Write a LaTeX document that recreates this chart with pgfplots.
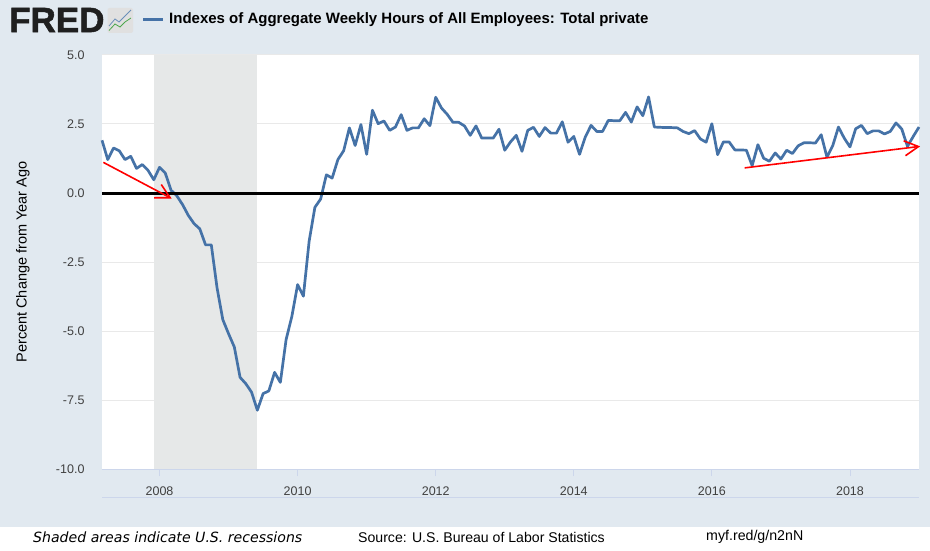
\documentclass[border=0pt]{standalone}
\usepackage{fontspec}
\setmainfont{Liberation Sans}
\newfontfamily\footfont{DejaVu Sans}
\newfontfamily\logofont{Liberation Sans}[BoldFeatures={FakeBold=1.5}]
\usepackage{pgfplots}
\pgfplotsset{compat=1.18}
\usetikzlibrary{arrows.meta}
\definecolor{fredbg}{HTML}{E1E9F0}
\definecolor{fredblue}{HTML}{4572A7}
\definecolor{fredgrid}{HTML}{E9E9E9}
\definecolor{fredaxis}{HTML}{CCD6EB}
\definecolor{fredrec}{HTML}{E6E8E8}

% index = months since Mar 2007, value = percent change from year ago
\begin{document}
\begin{tikzpicture}[x=1pt,y=1pt]
\path[use as bounding box] (0,0) rectangle (930,550);
\fill[white] (0,0) rectangle (930,550);
\fill[fredbg] (0,23) rectangle (930,550);

% logo
\node[anchor=west,inner sep=0pt,text=black!88] at (9,530) {\logofont\fontsize{35}{35}\selectfont\bfseries FRED};
\fill[black!12,rounded corners=2pt] (107.5,517) rectangle (133,542);
\draw[fredblue!80,line width=0.8pt] (109,524) -- (115,531) -- (119,528) -- (125,534) -- (131,540);
\draw[green!50!black!70,line width=0.8pt] (109,519.5) -- (115,526) -- (120,523) -- (125,528) -- (131,532);

% legend and title
\draw[fredblue,line width=3pt] (143,530) -- (163,530);
\node[anchor=west,inner sep=0pt] at (169,530) {\fontsize{15}{17}\selectfont\bfseries Indexes of Aggregate Weekly Hours of All Employees: Total private};

\begin{axis}[
    at={(102pt,81pt)},anchor=south west,
    scale only axis,
    width=817pt,height=414pt,
    xmin=0,xmax=142,
    ymin=-10,ymax=5,
    clip=false,
    axis background/.style={fill=white},
    axis x line=bottom,
    axis y line=left,
    axis line style={-},
    x axis line style={draw=fredaxis,line width=1pt},
    y axis line style={draw=none},
    xtick={10,34,58,82,106,130},
    xticklabels={2008,2010,2012,2014,2016,2018},
    ytick={-10,-7.5,-5,-2.5,0,2.5,5},
    ymajorgrids,
    major grid style={fredgrid,line width=1pt},
    x tick style={draw=fredaxis,line width=0.8pt},
    y tick style={draw=none},
    major tick length=7pt,
    tick align=outside,
    tick label style={font=\fontsize{12.5}{14}\selectfont,text=black!75},
    xticklabel style={yshift=-7pt},
    yticklabel style={xshift=-7pt},
    /pgf/number format/assume math mode=true,
    y tick label style={/pgf/number format/.cd,fixed,fixed zerofill,precision=1},
    ylabel={\fontsize{14.5}{16}\selectfont Percent Change from Year Ago},
    ylabel style={at={(axis description cs:-0.0967,0.5)},anchor=center},
]
\addplot[fill=fredrec,draw=none] coordinates {(9,-10) (9,5) (27,5) (27,-10)} --cycle;
\addplot[fredblue,line width=2.7pt,line join=round] coordinates {
(0,1.91)(1,1.21)(2,1.63)(3,1.53)(4,1.21)(5,1.33)(6,0.89)(7,1.03)(8,0.82)(9,0.48)
(10,0.93)(11,0.72)(12,0.10)(13,-0.10)(14,-0.42)(15,-0.81)(16,-1.11)(17,-1.30)(18,-1.88)(19,-1.88)
(20,-3.44)(21,-4.59)(22,-5.10)(23,-5.58)(24,-6.68)(25,-6.91)(26,-7.22)(27,-7.87)(28,-7.27)(29,-7.17)
(30,-6.50)(31,-6.86)(32,-5.31)(33,-4.47)(34,-3.32)(35,-3.74)(36,-1.75)(37,-0.52)(38,-0.22)(39,0.66)
(40,0.54)(41,1.21)(42,1.53)(43,2.36)(44,1.72)(45,2.48)(46,1.40)(47,3.00)(48,2.51)(49,2.61)
(50,2.27)(51,2.39)(52,2.84)(53,2.27)(54,2.36)(55,2.36)(56,2.69)(57,2.44)(58,3.47)(59,3.08)
(60,2.85)(61,2.56)(62,2.56)(63,2.43)(64,2.09)(65,2.43)(66,1.99)(67,1.99)(68,1.99)(69,2.31)
(70,1.55)(71,1.85)(72,2.09)(73,1.51)(74,2.27)(75,2.38)(76,2.05)(77,2.37)(78,2.17)(79,2.17)
(80,2.58)(81,1.84)(82,2.05)(83,1.40)(84,2.03)(85,2.45)(86,2.23)(87,2.23)(88,2.63)(89,2.62)
(90,2.62)(91,2.92)(92,2.57)(93,3.12)(94,2.80)(95,3.48)(96,2.39)(97,2.38)(98,2.37)(99,2.37)
(100,2.36)(101,2.23)(102,2.15)(103,2.26)(104,1.96)(105,1.84)(106,2.51)(107,1.39)(108,1.85)(109,1.85)
(110,1.56)(111,1.56)(112,1.55)(113,0.99)(114,1.75)(115,1.26)(116,1.15)(117,1.45)(118,1.23)(119,1.55)
(120,1.43)(121,1.71)(122,1.82)(123,1.82)(124,1.81)(125,2.11)(126,1.30)(127,1.71)(128,2.39)(129,1.99)
(130,1.67)(131,2.33)(132,2.45)(133,2.15)(134,2.25)(135,2.25)(136,2.14)(137,2.23)(138,2.54)(139,2.32)
(140,1.69)(141,2.05)(142,2.39)
};
\addplot[black,line width=3pt] coordinates {(0,0) (142,0)};
\addplot[red,line width=1.6pt,-{Straight Barb[length=14pt,width=15pt]}] coordinates {(0.23,1.11) (12.1,-0.2)};
\addplot[red,line width=1.6pt,-{Straight Barb[length=14pt,width=15pt]}] coordinates {(111.7,0.91) (142.2,1.69)};
\end{axis}

% navigator rule and footer
\draw[fredaxis,line width=1pt] (102,53) -- (919,53);
\node[anchor=west,inner sep=0pt] at (33,13) {\footfont\itshape\fontsize{14.1}{16}\selectfont Shaded areas indicate U.S. recessions};
\node[anchor=west,inner sep=0pt] at (358,13) {\fontsize{14.1}{16}\selectfont Source: U.S. Bureau of Labor Statistics};
\node[anchor=west,inner sep=0pt] at (706,13) {\fontsize{14.2}{16}\selectfont myf.red/g/n2nN};
\end{tikzpicture}
\end{document}
